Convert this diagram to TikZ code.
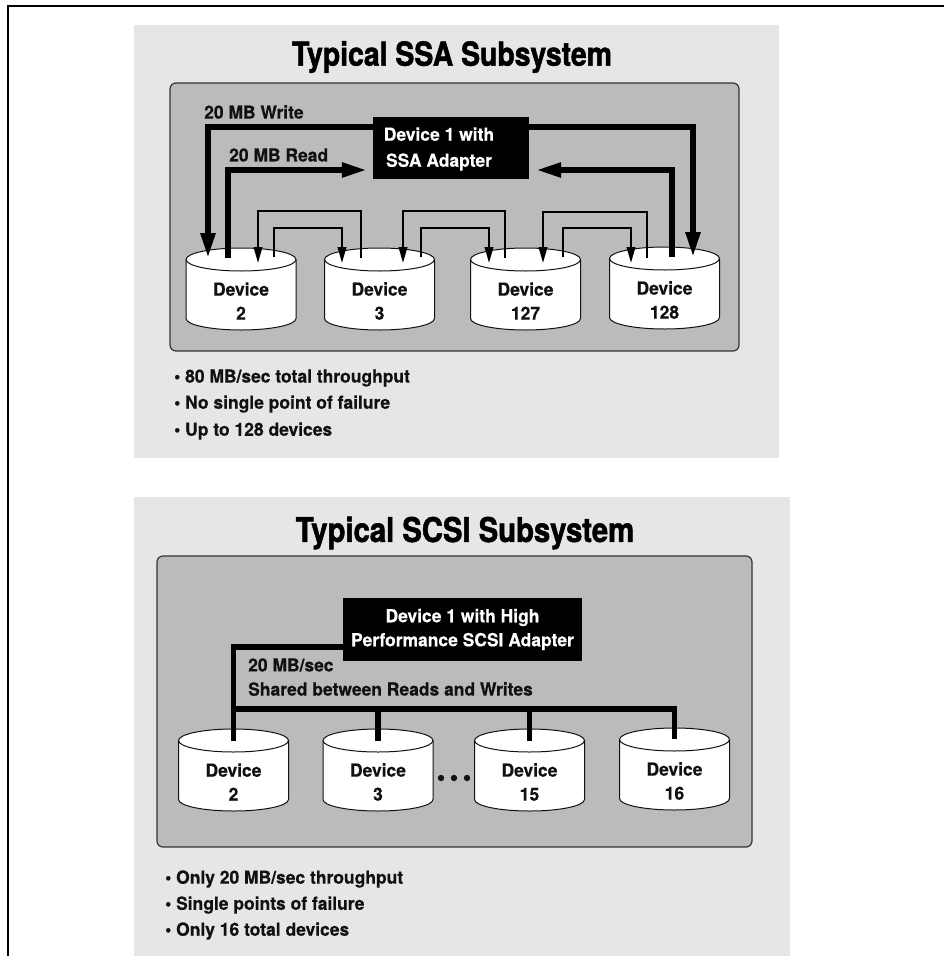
\documentclass[tikz,border=0pt]{standalone}
\usepackage{fontspec}
\setmainfont{TeX Gyre Heros Bold}[FakeStretch=0.97,FakeBold=0.4]
\newfontfamily\titlefont{TeX Gyre Heros Bold}[FakeStretch=0.86,FakeBold=1.5]
\usetikzlibrary{arrows.meta}
\definecolor{paper}{HTML}{E6E6E6}
\definecolor{slate}{HTML}{BBBBBB}
\definecolor{ink}{HTML}{111111}
\tikzset{
  outerpanel/.style={fill=paper},
  innerpanel/.style={fill=slate,draw=ink!85,line width=1.2pt,rounded corners=6pt},
  host/.style={fill=black,text=white,align=center,font=\fontsize{18}{24}\selectfont,inner sep=0pt},
  hostline/.style={text=white,align=center,font=\fontsize{18}{26}\selectfont,inner sep=0pt},
  drive/.style={minimum width=110pt,minimum height=82pt,inner sep=0pt,outer sep=0pt},
  driveline/.style={draw=ink,fill=white,line width=1pt},
  drivetext/.style={text=ink,align=center,inner sep=0pt,font=\fontsize{18}{24}\selectfont},
  caption/.style={text=ink,anchor=west,inner sep=0pt,font=\fontsize{18}{24}\selectfont},
  heading/.style={text=black,inner sep=0pt,font=\fontsize{33}{36}\titlefont},
  bigwire/.style={draw=black,line width=5.5pt},
  bigarrow/.style={bigwire,-{Triangle[length=25pt,width=14pt]}},
  smallarrow/.style={draw=black,line width=2.2pt,-{Triangle[length=16pt,width=8.5pt]}},
}
% name, x, y, label
\newcommand{\drivenode}[4]{%
  \node[drive] (#1) at (#2,#3) {};
  \draw[driveline] ([yshift=-11.5pt]#1.north west)
    arc[start angle=180,end angle=0,x radius=55pt,y radius=11.5pt]
    -- ([yshift=11.5pt]#1.south east)
    arc[start angle=0,end angle=-180,x radius=55pt,y radius=11.5pt] -- cycle;
  \draw[driveline,fill=none] ([yshift=-11.5pt]#1.north west)
    arc[start angle=180,end angle=360,x radius=55pt,y radius=11.5pt];
  \node[drivetext] (#1text) at ([yshift=-12pt]#1.center) {Device\\#4};
}
\begin{document}
\begin{tikzpicture}[x=1pt,y=-1pt]
  \useasboundingbox (0,0) rectangle (944,956);
  \draw[line width=1.4pt] (8,956) |- (944,6);
  \path[outerpanel] (134,25) rectangle (779,458);
  \path[outerpanel] (134,497) rectangle (790,956);
  \path[innerpanel] (170,83) rectangle (739,351);
  \path[innerpanel] (157,556) rectangle (752,847);

  % SSA
  \node[heading] (titleSSA) at (452,57) {Typical SSA Subsystem};
  \node[host,minimum width=156pt,minimum height=62pt] (hostA) at (451,148) {};
  \node[hostline] (hostAtext) at (439,149) {Device 1 with\\SSA Adapter};
  \drivenode{dA}{241}{289}{2}
  \drivenode{dB}{379.5}{289}{3}
  \drivenode{dC}{525.5}{289}{127}
  \drivenode{dD}{664.5}{288}{128}

  \node[caption] (writeLabel) at (204,112) {20 MB Write};
  \node[caption] (readLabel) at (229,155) {20 MB Read};
  \node[caption] (ssaOne) at (174,378) {• 80 MB/sec total throughput};
  \node[caption] (ssaTwo) at (174,404) {• No single point of failure};
  \node[caption] (ssaThree) at (174,431) {• Up to 128 devices};

  \draw[bigarrow] ([yshift=21pt]hostA.west) -| ([xshift=-33pt,yshift=-10pt]dA.north);
  \draw[bigarrow] ([yshift=21pt]hostA.east) -| ([xshift=28.5pt,yshift=-10pt]dD.north);
  \draw[bigarrow] ([xshift=-13pt,yshift=-10pt]dA.north) |- ([xshift=-6pt,yshift=-22pt]hostA.west);
  \draw[bigarrow] ([xshift=7.5pt,yshift=-10pt]dD.north) |- ([xshift=7pt,yshift=-22pt]hostA.east);

  \draw[smallarrow] ([xshift=-18.5pt,yshift=-10pt]dB.north) -- ++(0,-47) -| ([xshift=17pt,yshift=-15pt]dA.north);
  \draw[smallarrow] ([xshift=33pt,yshift=-9pt]dA.north) -- ++(0,-29) -| ([xshift=-37.5pt,yshift=-15pt]dB.north);
  \draw[smallarrow] ([xshift=-20.5pt,yshift=-10pt]dC.north) -- ++(0,-47) -| ([xshift=23.5pt,yshift=-15pt]dB.north);
  \draw[smallarrow] ([xshift=41.5pt,yshift=-9pt]dB.north) -- ++(0,-29) -| ([xshift=-36.5pt,yshift=-15pt]dC.north);
  \draw[smallarrow] ([xshift=-17.5pt,yshift=-11pt]dD.north) -- ++(0,-46) -| ([xshift=17.5pt,yshift=-15pt]dC.north);
  \draw[smallarrow] ([xshift=37.5pt,yshift=-9pt]dC.north) -- ++(0,-29) -| ([xshift=-33.5pt,yshift=-16pt]dD.north);

  % SCSI
  \node[heading,font=\fontsize{34}{36}\titlefont] (titleSCSI) at (465,533) {Typical SCSI Subsystem};
  \node[host,minimum width=239pt,minimum height=63pt] (hostB) at (462.5,629.5) {Device 1 with High\\Performance SCSI Adapter};
  \drivenode{dE}{233.5}{770}{2}
  \drivenode{dF}{378}{770}{3}
  \drivenode{dG}{529.5}{770}{15}
  \drivenode{dH}{674.5}{769}{16}

  \node[caption] (busOne) at (248,665) {20 MB/sec};
  \node[caption] (busTwo) at (248,689) {Shared between Reads and Writes};
  \node[caption] (scsiOne) at (165,879) {• Only 20 MB/sec throughput};
  \node[caption] (scsiTwo) at (165,905) {• Single points of failure};
  \node[caption] (scsiThree) at (165,931) {• Only 16 total devices};

  \draw[bigwire] ([yshift=-17.5pt]hostB.west) -| ([yshift=-12pt]dE.north);
  \draw[bigwire] (dE.north |- 0,709) -| ([yshift=-11pt]dH.north);
  \draw[bigwire] (dF.north |- 0,709) -- ([yshift=-12pt]dF.north);
  \draw[bigwire] (dG.north |- 0,709) -- ([yshift=-12pt]dG.north);
  \fill[ink] (441,778) circle (3.2pt) (454,778) circle (3.2pt) (467,778) circle (3.2pt);
\end{tikzpicture}
\end{document}
